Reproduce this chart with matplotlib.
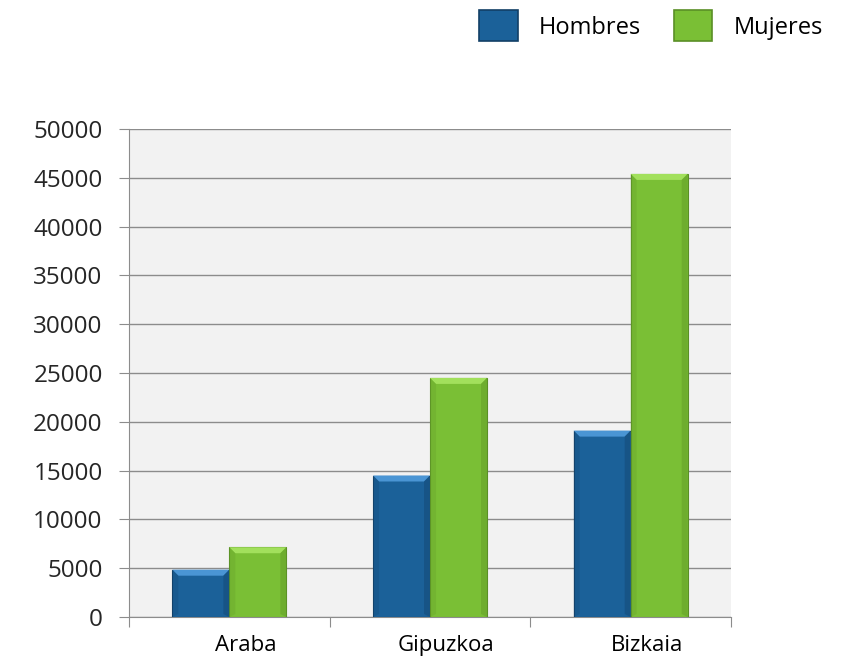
import matplotlib

matplotlib.use("Agg")
import matplotlib.pyplot as plt
import numpy as np
from matplotlib.patches import Polygon, Patch
from matplotlib.transforms import ScaledTranslation

provinces = ["Araba", "Gipuzkoa", "Bizkaia"]
hombres = [4850, 14500, 19100]
mujeres = [7150, 24500, 45400]

plt.rcParams["font.family"] = ["Open Sans", "DejaVu Sans"]

fig = plt.figure(figsize=(8.45, 6.59), dpi=100)
ax = fig.add_axes([0.1527, 0.0637, 0.7124, 0.7405])
ax.set_facecolor("#f2f2f2")

x = np.arange(len(provinces))
width = 0.284
styles = [
    (hombres, -width / 2, "#1b6199", "#4a95d4", "#154c7a", "#123f66"),
    (mujeres, width / 2, "#7abf35", "#a2e05c", "#66a22a", "#5a8f26"),
]

ax.set_xlim(-0.5, 2.5)
ax.set_ylim(0, 50000)

# bevel size in data units (about 6 px)
bx = 6 * 3 / 602
by = 6 * 50000 / 488

for values, offset, face, light, dark, edge in styles:
    bars = ax.bar(x + offset, values, width, color=face, edgecolor=edge,
                  linewidth=0.8, zorder=3)
    for b in bars:
        x0, w, h = b.get_x(), b.get_width(), b.get_height()
        x1 = x0 + w
        top = Polygon([(x0, h), (x1, h), (x1 - bx, h - by), (x0 + bx, h - by)],
                      closed=True, facecolor=light, edgecolor="none", zorder=4)
        right = Polygon([(x1, h), (x1, 0), (x1 - bx, by * 0.5), (x1 - bx, h - by)],
                        closed=True, facecolor=dark, edgecolor="none", zorder=4, alpha=0.6)
        left = Polygon([(x0, h), (x0, 0), (x0 + bx, by * 0.5), (x0 + bx, h - by)],
                       closed=True, facecolor=dark, edgecolor="none", zorder=4, alpha=0.35)
        ax.add_patch(top)
        ax.add_patch(right)
        ax.add_patch(left)

ax.set_yticks(np.arange(0, 50001, 5000))
ax.yaxis.grid(True, color="#8c8c8c", linewidth=1.0, zorder=0)
ax.set_axisbelow(True)

for side in ("top", "right"):
    ax.spines[side].set_visible(False)
ax.spines["left"].set_color("#8c8c8c")
ax.spines["bottom"].set_color("#8c8c8c")

ax.tick_params(axis="y", direction="out", length=7, color="#8c8c8c",
               labelsize=17.5, labelcolor="#262626", pad=12)

# category boundary ticks and centered labels
ax.set_xticks([-0.5, 0.5, 1.5, 2.5])
ax.set_xticklabels([])
ax.tick_params(axis="x", which="major", direction="out", length=7, color="#8c8c8c")
ax.set_xticks(x, minor=True)
ax.set_xticklabels(provinces, minor=True)
ax.tick_params(axis="x", which="minor", length=0, labelsize=16,
               labelcolor="#000000", pad=13)
shift = ScaledTranslation(16 / 100, 0, fig.dpi_scale_trans)
for lbl in ax.get_xticklabels(minor=True):
    lbl.set_transform(lbl.get_transform() + shift)

handles = [Patch(facecolor="#1b6199", edgecolor="#123f66", linewidth=1.2),
           Patch(facecolor="#7abf35", edgecolor="#5a8f26", linewidth=1.2)]
fig.legend(handles, ["Hombres", "Mujeres"], loc="upper right",
           bbox_to_anchor=(0.988, 1.002), ncol=2, frameon=False, borderpad=0,
           fontsize=17, handlelength=1.62, handleheight=1.62,
           handletextpad=0.9, columnspacing=1.4)

fig.savefig("out.png", dpi=100)
